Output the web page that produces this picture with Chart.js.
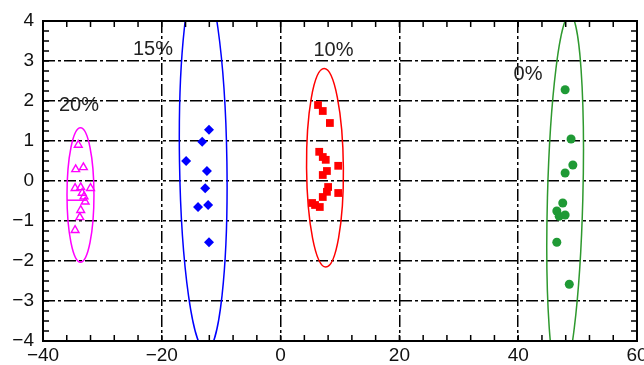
<!DOCTYPE html>
<html><head><meta charset="utf-8">
<style>html,body{margin:0;padding:0;background:#fff}#wrap{width:644px;height:365px}</style>
<script src="https://cdn.jsdelivr.net/npm/chart.js@4/dist/chart.umd.min.js"></script>
</head><body><div id="wrap"><canvas id="c" width="644" height="365"></canvas></div>
<script>
// ---- data ----
const xTickValues = [-40, -20, 0, 20, 40, 60];
const yTickValues = [-4, -3, -2, -1, 0, 1, 2, 3, 4];

const g20X = [-34.06, -34.5, -33.2, -34.6, -33.65, -32.0, -33.4, -33.1, -32.9, -33.65, -33.8, -34.6];
const g20Y = [0.9, 0.29, 0.34, -0.18, -0.16, -0.18, -0.3, -0.39, -0.52, -0.73, -0.91, -1.23];

const g15X = [-12.05, -13.2, -15.9, -12.4, -12.7, -13.9, -12.2, -12.05];
const g15Y = [1.28, 0.98, 0.5, 0.25, -0.18, -0.65, -0.6, -1.53];

const g10X = [6.3, 7.1, 8.3, 6.5, 7.1, 7.6, 9.7, 7.8, 7.1, 8.0, 7.8, 9.7, 7.1, 5.3, 5.8, 6.6];
const g10Y = [1.9, 1.75, 1.45, 0.73, 0.6, 0.53, 0.38, 0.25, 0.15, -0.15, -0.27, -0.3, -0.4, -0.55, -0.6, -0.65];

const g0X = [47.9, 48.9, 49.2, 47.9, 47.5, 46.5, 46.9, 47.9, 46.5, 48.6];
const g0Y = [2.28, 1.05, 0.4, 0.2, -0.55, -0.75, -0.88, -0.85, -1.53, -2.58];

const seg20X = [-35.95, -32.7];
const seg20Y = [-0.48, -0.48];

// confidence ellipses: center, semi-axes (data units), tilt (deg)
const ellCX = [-33.69, -13.03, 7.47, 47.9];
const ellCY = [-0.35, 0.48, 0.33, -0.43];
const ellRX = [2.27, 3.99, 3.1, 2.98];
const ellRY = [1.68, 4.73, 2.48, 4.59];
const ellRot = [0, -0.9, -0.5, 1.5];

const groupLabels = ['20%', '15%', '10%', '0%'];
const labelX = [-33.94, -21.48, 8.9, 41.65];
const labelY = [1.88, 3.28, 3.27, 2.66];

// ---- styles ----
const ellColors = ['#ff00ff', '#0000ff', '#ff0000', '#2e992e'];
const FONT = "'Liberation Sans', Arial, sans-serif";

const toPts = (xs, ys) => xs.map((x, i) => ({x: x, y: ys[i]}));
const fmt = v => (v < 0 ? '\u2212' + Math.abs(v) : String(v));

const overlay = {
  id: 'overlay',
  beforeDatasetsDraw(chart) {
    const {ctx, chartArea: a, scales: {x, y}} = chart;
    const sx = Math.abs(x.getPixelForValue(1) - x.getPixelForValue(0));
    const sy = Math.abs(y.getPixelForValue(1) - y.getPixelForValue(0));
    ctx.save();
    ctx.beginPath();
    ctx.rect(a.left, a.top, a.right - a.left, a.bottom - a.top);
    ctx.clip();
    for (let i = 0; i < ellCX.length; i++) {
      ctx.beginPath();
      ctx.ellipse(x.getPixelForValue(ellCX[i]), y.getPixelForValue(ellCY[i]),
        ellRX[i] * sx, ellRY[i] * sy, ellRot[i] * Math.PI / 180, 0, Math.PI * 2);
      ctx.strokeStyle = ellColors[i];
      ctx.lineWidth = 1.5;
      ctx.stroke();
    }
    ctx.restore();
  },
  afterDraw(chart) {
    const {ctx, chartArea: a, scales: {x, y}} = chart;
    ctx.save();
    // frame
    ctx.strokeStyle = '#000';
    ctx.lineWidth = 2;
    ctx.strokeRect(a.left, a.top, a.right - a.left, a.bottom - a.top);
    // minor + major ticks, inward on all sides
    ctx.lineWidth = 1.5;
    ctx.beginPath();
    const L = 6;
    for (let v = x.min; v <= x.max + 1e-9; v += 4) {
      const px = x.getPixelForValue(v);
      ctx.moveTo(px, a.bottom); ctx.lineTo(px, a.bottom - L);
      ctx.moveTo(px, a.top); ctx.lineTo(px, a.top + L);
    }
    for (let v = y.min; v <= y.max + 1e-9; v += 0.25) {
      const py = y.getPixelForValue(v);
      ctx.moveTo(a.left, py); ctx.lineTo(a.left + L, py);
      ctx.moveTo(a.right, py); ctx.lineTo(a.right - L, py);
    }
    ctx.stroke();
    // group labels
    ctx.fillStyle = '#222';
    ctx.font = '20px ' + FONT;
    ctx.textAlign = 'center';
    ctx.textBaseline = 'middle';
    for (let i = 0; i < groupLabels.length; i++) {
      ctx.fillText(groupLabels[i], x.getPixelForValue(labelX[i]), y.getPixelForValue(labelY[i]));
    }
    ctx.restore();
  }
};

new Chart(document.getElementById('c'), {
  type: 'scatter',
  data: {
    datasets: [
      {label: '20% seg', data: toPts(seg20X, seg20Y), showLine: true, borderColor: '#ff00ff',
       borderWidth: 1.5, pointRadius: 0, fill: false},
      {label: '20%', data: toPts(g20X, g20Y), pointStyle: 'triangle', pointRadius: 4.5,
       borderColor: '#ff00ff', backgroundColor: 'rgba(0,0,0,0)', borderWidth: 1.4},
      {label: '15%', data: toPts(g15X, g15Y), pointStyle: 'rectRot', pointRadius: 5,
       borderColor: '#0000ff', backgroundColor: '#0000ff', borderWidth: 0},
      {label: '10%', data: toPts(g10X, g10Y), pointStyle: 'rect', pointRadius: 5.5,
       borderColor: '#ff0000', backgroundColor: '#ff0000', borderWidth: 0},
      {label: '0%', data: toPts(g0X, g0Y), pointStyle: 'circle', pointRadius: 4.5,
       borderColor: '#1f9a35', backgroundColor: '#1f9a35', borderWidth: 0}
    ]
  },
  options: {
    responsive: false,
    animation: false,
    devicePixelRatio: 1,
    layout: {padding: {top: 21, right: 7, left: 0, bottom: 0}},
    plugins: {legend: {display: false}, tooltip: {enabled: false}},
    scales: {
      x: {
        type: 'linear', min: -40, max: 60,
        afterBuildTicks: s => { s.ticks = xTickValues.map(v => ({value: v})); },
        afterFit: s => { s.height = 24; s.paddingLeft = 0; s.paddingRight = 0; },
        ticks: {callback: v => fmt(v), color: '#111', font: {family: FONT, size: 19}, padding: 3, maxRotation: 0, autoSkip: false},
        grid: {color: '#000', lineWidth: 1.5, drawTicks: false},
        border: {display: false, dash: [12, 3, 3, 3]}
      },
      y: {
        type: 'linear', min: -4, max: 4,
        afterBuildTicks: s => { s.ticks = yTickValues.map(v => ({value: v})); },
        afterFit: s => { s.width = 43; s.paddingTop = 0; s.paddingBottom = 0; },
        ticks: {callback: v => fmt(v), color: '#111', font: {family: FONT, size: 19}, padding: 9, autoSkip: false},
        grid: {color: '#000', lineWidth: 1.5, drawTicks: false},
        border: {display: false, dash: [12, 3, 3, 3]}
      }
    }
  },
  plugins: [overlay]
});
</script>
</body></html>
